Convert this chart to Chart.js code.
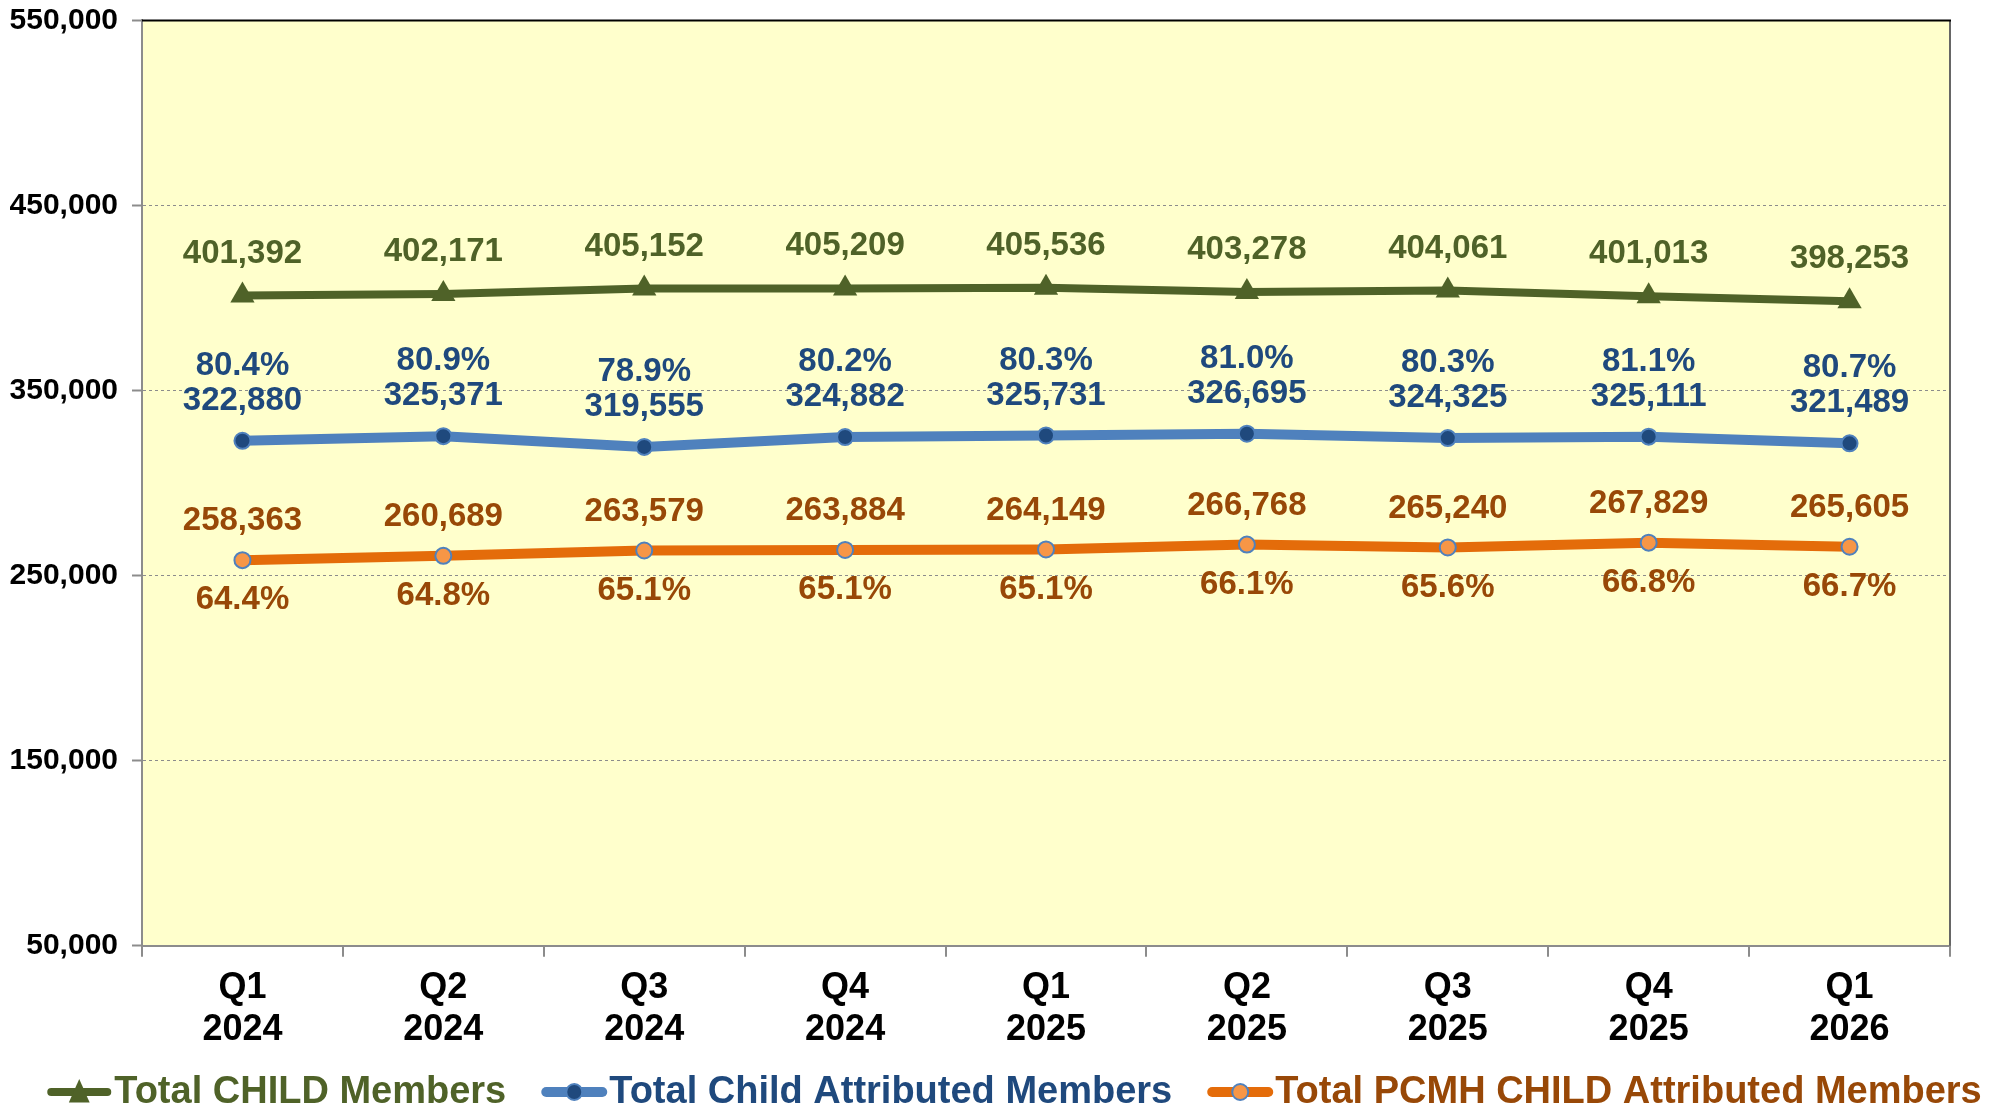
<!DOCTYPE html>
<html>
<head>
<meta charset="utf-8">
<script src="https://cdn.jsdelivr.net/npm/chart.js@4.4.1/dist/chart.umd.min.js"></script>
<style>
  html, body { margin: 0; padding: 0; background: #fff; overflow: hidden; }
  #wrap { width: 2009px; height: 1108px; }
</style>
</head>
<body>
<div id="wrap"><canvas id="chart" width="2009" height="1108"></canvas></div>
<script>
// quarters shown on the x axis (two lines each)
const quarters = [
  ['Q1', '2024'], ['Q2', '2024'], ['Q3', '2024'], ['Q4', '2024'],
  ['Q1', '2025'], ['Q2', '2025'], ['Q3', '2025'], ['Q4', '2025'],
  ['Q1', '2026']
];
const seriesNames = ['Total CHILD Members', 'Total Child Attributed Members', 'Total PCMH CHILD Attributed Members'];
const totalChild = [401392, 402171, 405152, 405209, 405536, 403278, 404061, 401013, 398253];
const childAttributed = [322880, 325371, 319555, 324882, 325731, 326695, 324325, 325111, 321489];
const pcmhAttributed = [258363, 260689, 263579, 263884, 264149, 266768, 265240, 267829, 265605];
// share of total members, as printed on the chart
const attributedPct = ['80.4%', '80.9%', '78.9%', '80.2%', '80.3%', '81.0%', '80.3%', '81.1%', '80.7%'];
const pcmhPct = ['64.4%', '64.8%', '65.1%', '65.1%', '65.1%', '66.1%', '65.6%', '66.8%', '66.7%'];
const yMin = 50000, yMax = 550000, yStep = 100000;

const FONT = '"Liberation Sans", Arial, sans-serif';
const GREEN = '#4F6228', NAVY = '#1F497D', BLUE = '#4F81BD';
const ORANGE = '#E46C0A', ORANGE_LT = '#F79646', BROWN = '#984807';

const fmt = v => v.toLocaleString('en-US');

// yellow plot area and its top / right edges
const plotFrame = {
  id: 'plotFrame',
  beforeDraw(chart) {
    const { ctx, chartArea: a } = chart;
    ctx.save();
    ctx.fillStyle = '#FFFFCC';
    ctx.fillRect(a.left, a.top, a.right - a.left, a.bottom - a.top);
    ctx.restore();
  },
  beforeDatasetsDraw(chart) {
    const { ctx, chartArea: a } = chart;
    ctx.save();
    ctx.lineWidth = 2;
    ctx.strokeStyle = '#666666';
    ctx.beginPath();
    ctx.moveTo(a.right, a.top);
    ctx.lineTo(a.right, a.bottom);
    ctx.stroke();
    ctx.strokeStyle = '#000000';
    ctx.beginPath();
    ctx.moveTo(a.left, a.top);
    ctx.lineTo(a.right + 1, a.top);
    ctx.stroke();
    ctx.restore();
  }
};

// numbers and percentages next to each point
const valueLabels = {
  id: 'valueLabels',
  afterDatasetsDraw(chart) {
    const ctx = chart.ctx;
    ctx.save();
    ctx.font = 'bold 33px ' + FONT;
    ctx.textAlign = 'center';
    ctx.textBaseline = 'middle';
    chart.data.datasets.forEach((ds, di) => {
      const meta = chart.getDatasetMeta(di);
      ctx.fillStyle = ds.labelColor;
      meta.data.forEach((pt, i) => {
        ctx.fillText(fmt(ds.data[i]), pt.x, pt.y + ds.valueOffset);
        if (ds.pct) ctx.fillText(ds.pct[i], pt.x, pt.y + ds.pctOffset);
      });
    });
    ctx.restore();
  }
};

// legend along the bottom edge, line + marker then the name
const bottomLegend = {
  id: 'bottomLegend',
  afterDraw(chart) {
    const ctx = chart.ctx;
    const symW = 64, gapIn = 3, gapOut = 36, baseY = 1103, midY = 1092;
    ctx.save();
    ctx.font = 'bold 38px ' + FONT;
    const widths = chart.data.datasets.map(ds => ctx.measureText(ds.label).width);
    const total = widths.reduce((s, w) => s + symW + gapIn + w, 0) + gapOut * (widths.length - 1);
    let x = chart.width / 2 + 10 - total / 2;
    chart.data.datasets.forEach((ds, i) => {
      const cx = x + symW / 2;
      ctx.lineCap = 'round';
      ctx.strokeStyle = ds.borderColor;
      ctx.lineWidth = ds.borderWidth;
      ctx.beginPath();
      ctx.moveTo(x + 4, midY);
      ctx.lineTo(x + symW - 4, midY);
      ctx.stroke();
      ctx.fillStyle = ds.pointBackgroundColor;
      ctx.strokeStyle = ds.pointBorderColor;
      ctx.lineWidth = ds.pointBorderWidth || 0;
      ctx.beginPath();
      if (ds.pointStyle === 'triangle') {
        const r = ds.pointRadius - 1;
        ctx.moveTo(cx, midY - r);
        ctx.lineTo(cx + r * 0.8, midY + r * 0.8);
        ctx.lineTo(cx - r * 0.8, midY + r * 0.8);
        ctx.closePath();
        ctx.fill();
      } else {
        ctx.arc(cx, midY, ds.pointRadius, 0, Math.PI * 2);
        ctx.fill();
        if (ds.pointBorderWidth) ctx.stroke();
      }
      ctx.fillStyle = ds.labelColor;
      ctx.textAlign = 'left';
      ctx.textBaseline = 'alphabetic';
      ctx.fillText(ds.label, x + symW + gapIn, baseY);
      x += symW + gapIn + widths[i] + gapOut;
    });
    ctx.restore();
  }
};

new Chart(document.getElementById('chart'), {
  type: 'line',
  data: {
    labels: quarters,
    datasets: [
      {
        label: seriesNames[0],
        data: totalChild,
        borderColor: GREEN,
        borderWidth: 8,
        pointStyle: 'triangle',
        pointRadius: 14,
        pointBackgroundColor: GREEN,
        pointBorderColor: GREEN,
        pointBorderWidth: 0,
        labelColor: GREEN,
        valueOffset: -42
      },
      {
        label: seriesNames[1],
        data: childAttributed,
        borderColor: BLUE,
        borderWidth: 10,
        pointStyle: 'circle',
        pointRadius: 8,
        pointBackgroundColor: NAVY,
        pointBorderColor: BLUE,
        pointBorderWidth: 2,
        labelColor: NAVY,
        valueOffset: -40,
        pct: attributedPct,
        pctOffset: -75
      },
      {
        label: seriesNames[2],
        data: pcmhAttributed,
        borderColor: ORANGE,
        borderWidth: 10,
        pointStyle: 'circle',
        pointRadius: 8,
        pointBackgroundColor: ORANGE_LT,
        pointBorderColor: BLUE,
        pointBorderWidth: 2,
        labelColor: BROWN,
        valueOffset: -39,
        pct: pcmhPct,
        pctOffset: 40
      }
    ]
  },
  options: {
    responsive: false,
    animation: false,
    layout: { padding: { left: 10, right: 59, top: 10, bottom: 47 } },
    elements: { line: { tension: 0 } },
    scales: {
      x: {
        offset: true,
        grid: { offset: true, drawOnChartArea: false, tickLength: 11, color: '#8c8c8c', lineWidth: 2 },
        border: { color: '#8c8c8c', width: 2 },
        ticks: {
          color: '#000',
          padding: 10,
          maxRotation: 0,
          font: { family: FONT, size: 36, weight: 'bold', lineHeight: 1.17 }
        }
      },
      y: {
        min: yMin,
        max: yMax,
        afterFit(scale) { scale.width = 132; },
        grid: { color: '#8c8c8c', lineWidth: 1, tickLength: 10, tickColor: '#8c8c8c', tickWidth: 2, tickBorderDash: [] },
        border: { color: '#8c8c8c', width: 2, dash: [3, 3] },
        ticks: {
          stepSize: yStep,
          color: '#000',
          padding: 14,
          font: { family: FONT, size: 30, weight: 'bold', lineHeight: 0.43 },
          callback: v => fmt(v)
        }
      }
    },
    plugins: {
      legend: { display: false },
      tooltip: { enabled: false }
    }
  },
  plugins: [plotFrame, valueLabels, bottomLegend]
});
</script>
</body>
</html>
